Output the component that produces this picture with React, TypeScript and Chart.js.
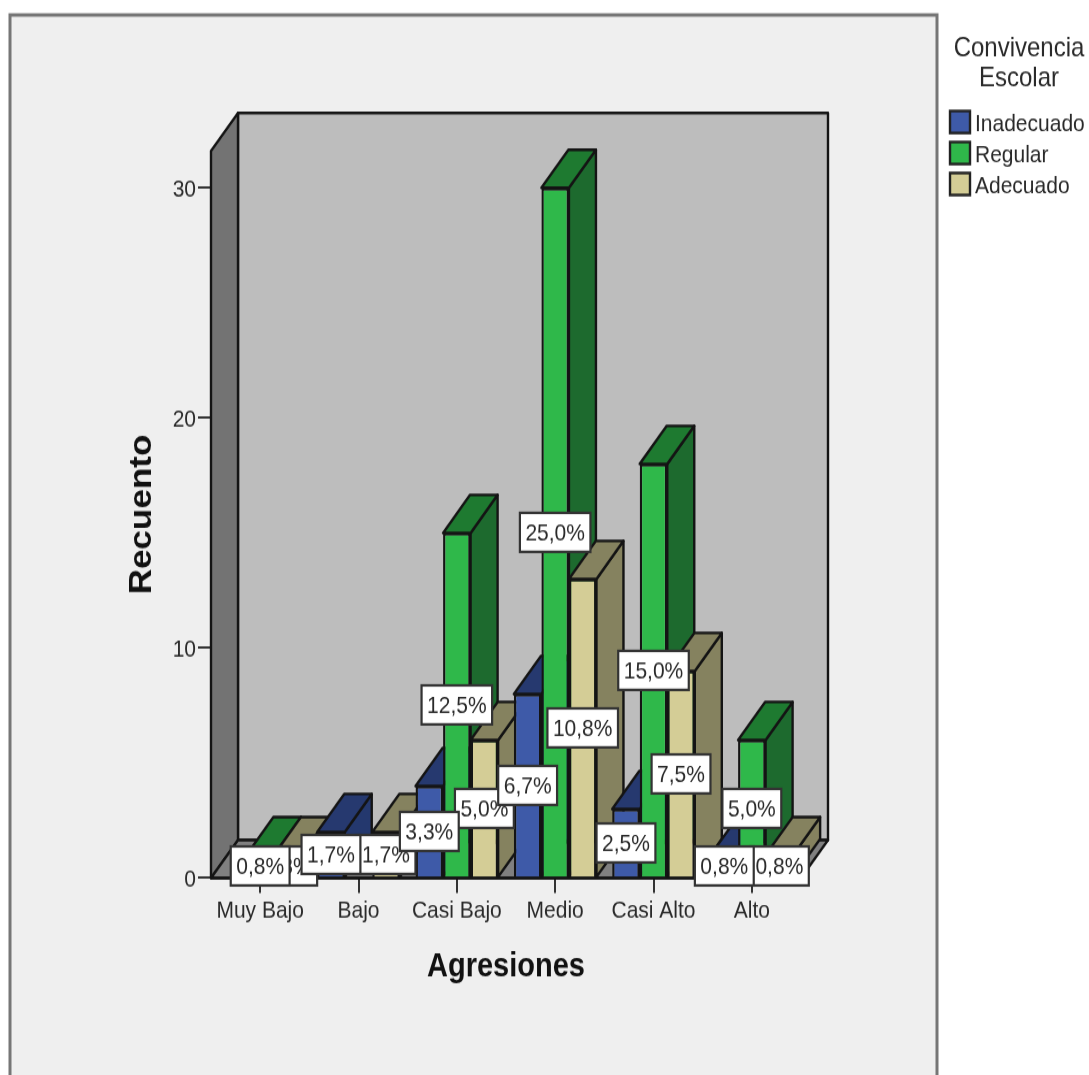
import React, { useEffect, useRef } from "react";
import { Chart, registerables } from "chart.js";

Chart.register(...registerables);

const categories = ["Muy Bajo", "Bajo", "Casi Bajo", "Medio", "Casi Alto", "Alto"];
const inadecuado = [0, 2, 4, 8, 3, 1];
const regular = [1, 0, 15, 30, 18, 6];
const adecuado = [1, 2, 6, 13, 9, 1];
const inadecuadoPct = ["", "1,7%", "3,3%", "6,7%", "2,5%", "0,8%"];
const regularPct = ["0,8%", "", "12,5%", "25,0%", "15,0%", "5,0%"];
const adecuadoPct = ["0,8%", "1,7%", "5,0%", "10,8%", "7,5%", "0,8%"];
const yTicks = [0, 10, 20, 30];
const legendTitle = ["Convivencia", "Escolar"];
const xTitle = "Agresiones";
const yTitle = "Recuento";

const pctBySeries = [inadecuadoPct, regularPct, adecuadoPct];
const sideColors = ["#24386e", "#1d6a2e", "#85825f"];
const topColors = ["#26396f", "#1e7a30", "#85825f"];
const STRETCH = 1.15; // the reference is vertically stretched
const H = 1075 / STRETCH;
const v = (y: number) => y / STRETCH;
const DX = 27;
const DY = v(38);
const INK = "#141414";
const FONT = "Liberation Sans, Arial, sans-serif";

function poly(ctx: CanvasRenderingContext2D, pts: number[][], fill: string, lw = 2.4) {
  ctx.beginPath();
  pts.forEach((p, i) => (i ? ctx.lineTo(p[0], p[1]) : ctx.moveTo(p[0], p[1])));
  ctx.closePath();
  ctx.fillStyle = fill;
  ctx.fill();
  ctx.lineWidth = lw;
  ctx.lineJoin = "round";
  ctx.strokeStyle = INK;
  ctx.stroke();
}

const framePlugin = {
  id: "frame3d",
  beforeDraw(chart: any) {
    const ctx = chart.ctx;
    ctx.save();
    ctx.fillStyle = "#ffffff";
    ctx.fillRect(0, 0, chart.width, chart.height);
    ctx.fillStyle = "#efefef";
    ctx.fillRect(10, v(15), 927, chart.height);
    ctx.strokeStyle = "#767676";
    ctx.lineWidth = 3;
    ctx.beginPath();
    ctx.moveTo(10, chart.height + 5);
    ctx.lineTo(10, v(15));
    ctx.lineTo(937, v(15));
    ctx.lineTo(937, chart.height + 5);
    ctx.stroke();

    // legend drawn from the dataset labels
    ctx.fillStyle = "#2a2a2a";
    ctx.textAlign = "center";
    ctx.textBaseline = "middle";
    ctx.font = `24px ${FONT}`;
    legendTitle.forEach((t, i) => ctx.fillText(t, 1019, v(48.5 + i * 30)));
    ctx.font = `21px ${FONT}`;
    ctx.textAlign = "left";
    chart.data.datasets.forEach((ds: any, i: number) => {
      const y = v(111 + i * 31);
      ctx.fillStyle = ds.backgroundColor;
      ctx.strokeStyle = "#222";
      ctx.lineWidth = 2.4;
      ctx.fillRect(950, y, 20, v(22));
      ctx.strokeRect(950, y, 20, v(22));
      ctx.fillStyle = "#2a2a2a";
      ctx.fillText(ds.label, 975, v(124 + i * 31.5));
    });
    ctx.restore();
  },
  beforeDatasetsDraw(chart: any) {
    const ctx = chart.ctx;
    const { left, right, top } = chart.chartArea;
    const y0 = chart.scales.y.getPixelForValue(0);
    ctx.save();
    // walls and floor
    poly(ctx, [[left + DX, top - DY], [right + DX, top - DY], [right + DX, y0 - DY], [left + DX, y0 - DY]], "#bdbdbd");
    poly(ctx, [[left, top], [left + DX, top - DY], [left + DX, y0 - DY], [left, y0]], "#737373");
    poly(ctx, [[left, y0], [left + DX, y0 - DY], [right + DX, y0 - DY], [right, y0]], "#808080");

    // bars, painted left to right so that nearer faces cover farther ones
    const bars: any[] = [];
    chart.data.datasets.forEach((_: any, d: number) => {
      chart.getDatasetMeta(d).data.forEach((el: any, i: number) => {
        if (chart.data.datasets[d].data[i] > 0) bars.push({ el, d, i });
      });
    });
    bars.sort((a, b) => a.el.x - b.el.x);
    bars.forEach(({ el, d }) => {
      const l = el.x - el.width / 2;
      const r = el.x + el.width / 2;
      poly(ctx, [[r, el.y], [r + DX, el.y - DY], [r + DX, el.base - DY], [r, el.base]], sideColors[d]);
      poly(ctx, [[l, el.y], [l + DX, el.y - DY], [r + DX, el.y - DY], [r, el.y]], topColors[d]);
      el.draw(ctx, chart.chartArea);
    });
    // front edge of the floor
    ctx.strokeStyle = INK;
    ctx.lineWidth = 2.4;
    ctx.beginPath();
    ctx.moveTo(left, y0);
    ctx.lineTo(right, y0);
    ctx.stroke();
    ctx.restore();
    return false;
  },
  afterDraw(chart: any) {
    const ctx = chart.ctx;
    ctx.save();
    ctx.font = `21px ${FONT}`;
    ctx.textAlign = "center";
    ctx.textBaseline = "middle";
    categories.forEach((_, i) => {
      [2, 1, 0].forEach((d) => {
        const text = pctBySeries[d][i];
        if (!text) return;
        const el = chart.getDatasetMeta(d).data[i];
        const cy = (el.y + el.base) / 2;
        const w = ctx.measureText(text).width + 11;
        const h = v(39);
        ctx.fillStyle = "#ffffff";
        ctx.fillRect(el.x - w / 2, cy - h / 2, w, h);
        ctx.strokeStyle = "#333";
        ctx.lineWidth = 2.2;
        ctx.strokeRect(el.x - w / 2, cy - h / 2, w, h);
        ctx.fillStyle = "#2a2a2a";
        ctx.fillText(text, el.x, cy + 1);
      });
    });
    ctx.restore();
  },
};

export default function App() {
  const ref = useRef<HTMLCanvasElement>(null);
  useEffect(() => {
    const chart = new Chart(ref.current as HTMLCanvasElement, {
      type: "bar",
      plugins: [framePlugin],
      data: {
        labels: categories,
        datasets: [
          { label: "Inadecuado", data: inadecuado, backgroundColor: "#3e5aa8" },
          { label: "Regular", data: regular, backgroundColor: "#2fb84a" },
          { label: "Adecuado", data: adecuado, backgroundColor: "#d4cd96" },
        ].map((d) => ({ ...d, borderColor: INK, borderWidth: 2.4, categoryPercentage: 0.84, barPercentage: 1 })),
      },
      options: {
        animation: false,
        responsive: false,
        layout: { padding: { left: 124.7, right: 288, top: v(151), bottom: Math.ceil(H) - v(967) - 17.4 } },
        plugins: { legend: { display: false }, tooltip: { enabled: false } },
        scales: {
          x: {
            afterFit: (s: any) => { s.height = v(967 - 878) + 17.4; },
            grid: { offset: false, drawOnChartArea: false, drawTicks: true, tickLength: v(15), color: "#333", lineWidth: 2 },
            border: { display: false },
            ticks: { color: "#2a2a2a", font: { family: FONT, size: 21 }, padding: 3.5, maxRotation: 0, autoSkip: false },
            title: { display: true, text: xTitle, color: "#111", font: { family: FONT, size: 29, weight: "bold" }, padding: 0 },
          },
          y: {
            min: 0,
            max: 31.6,
            afterFit: (s: any) => { s.width = 86.3; },
            afterBuildTicks: (s: any) => { s.ticks = yTicks.map((value) => ({ value })); },
            grid: { drawOnChartArea: false, drawTicks: true, tickLength: 13, color: "#333", lineWidth: 2 },
            border: { display: false },
            ticks: { color: "#2a2a2a", font: { family: FONT, size: 21 }, padding: 2, includeBounds: false, labelOffset: 1.5 },
            title: { display: true, text: yTitle, color: "#111", font: { family: FONT, size: 30.5, weight: "bold" }, padding: 0 },
          },
        },
      },
    } as any);
    return () => chart.destroy();
  }, []);
  return (
    <div style={{ position: "fixed", left: 0, top: 0, width: 1089, height: 1075, overflow: "hidden" }}>
      <canvas
        ref={ref}
        width={1089}
        height={Math.ceil(H)}
        style={{ display: "block", transformOrigin: "0 0", transform: `scaleY(${STRETCH})`, filter: "blur(0.5px)" }}
      />
    </div>
  );
}
